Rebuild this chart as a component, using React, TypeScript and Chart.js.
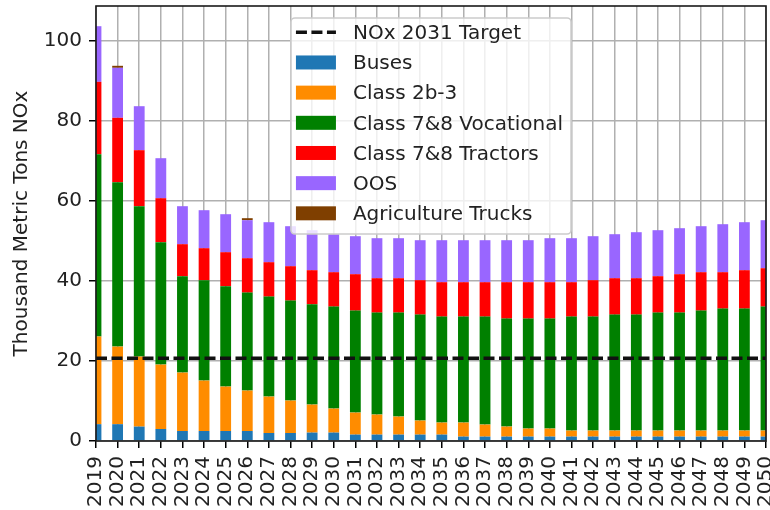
import React, { useEffect, useRef } from "react";
import { Chart, registerables } from "chart.js";

Chart.register(...registerables);

const years = [
  "2019", "2020", "2021", "2022", "2023", "2024", "2025", "2026",
  "2027", "2028", "2029", "2030", "2031", "2032", "2033", "2034",
  "2035", "2036", "2037", "2038", "2039", "2040", "2041", "2042",
  "2043", "2044", "2045", "2046", "2047", "2048", "2049", "2050",
];

const buses = [
  4.2, 4.2, 3.6, 3.0, 2.5, 2.5, 2.5, 2.5, 2.0, 2.0, 2.1, 2.1, 1.6, 1.6, 1.6, 1.6,
  1.6, 1.1, 1.1, 1.1, 1.1, 1.1, 1.1, 1.1, 1.1, 1.1, 1.1, 1.1, 1.1, 1.1, 1.1, 1.1,
];

const class2b3 = [
  21.9, 19.4, 17.5, 16.1, 14.6, 12.6, 11.1, 10.1, 9.1, 8.1, 7.0, 6.0, 5.5, 5.0, 4.5, 3.5,
  3.0, 3.5, 3.0, 2.5, 2.0, 2.0, 1.5, 1.5, 1.5, 1.5, 1.5, 1.5, 1.5, 1.5, 1.5, 1.5,
];

const vocational = [
  45.6, 41.1, 37.6, 30.6, 24.1, 25.1, 25.1, 24.5, 25.0, 25.0, 25.1, 25.5, 25.5, 25.5, 26.0, 26.5,
  26.5, 26.5, 27.0, 27.0, 27.5, 27.5, 28.5, 28.5, 29.0, 29.0, 29.5, 29.5, 30.0, 30.5, 30.5, 31.0,
];

const tractors = [
  18.1, 16.1, 14.0, 11.0, 8.0, 8.0, 8.5, 8.6, 8.6, 8.6, 8.5, 8.6, 9.1, 8.6, 8.6, 8.6,
  8.6, 8.6, 8.6, 9.1, 9.1, 9.1, 8.6, 9.1, 9.1, 9.1, 9.1, 9.6, 9.6, 9.1, 9.6, 9.6,
];

const oos = [
  13.9, 12.5, 11.0, 10.0, 9.5, 9.5, 9.5, 9.5, 10.0, 10.0, 10.0, 9.5, 9.5, 10.0, 10.0, 10.0,
  10.5, 10.5, 10.5, 10.5, 10.5, 11.0, 11.0, 11.0, 11.0, 11.5, 11.5, 11.5, 11.5, 12.0, 12.0, 12.0,
];

const agriculture = [
  0, 0.5, 0, 0, 0, 0, 0, 0.5, 0, 0, 0, 0, 0, 0, 0, 0,
  0, 0, 0, 0, 0, 0, 0, 0, 0, 0, 0, 0, 0, 0, 0, 0,
];

const target2031 = 20.7;
const yTicks = [0, 20, 40, 60, 80, 100];
const yMax = 108.75;

const FONT = "'DejaVu Sans', sans-serif";
const TEXT = "#222222";

const seriesNames = [
  "Buses",
  "Class 2b-3",
  "Class 7&8 Vocational",
  "Class 7&8 Tractors",
  "OOS",
  "Agriculture Trucks",
];
const seriesColors = ["#1f77b4", "#ff8c00", "#008000", "#ff0000", "#9966ff", "#7f3f00"];
const seriesData = [buses, class2b3, vocational, tractors, oos, agriculture];
const targetLabel = "NOx 2031 Target";
const targetDash = [11, 4.5];
const targetWidth = 3.5;

const overlayPlugin = {
  id: "frameAndLegend",
  afterDraw(chart: any) {
    const { ctx, chartArea: a } = chart;
    ctx.save();
    // axes frame
    ctx.strokeStyle = "#1a1a1a";
    ctx.lineWidth = 1.6;
    ctx.strokeRect(a.left, a.top, a.right - a.left, a.bottom - a.top);

    // legend
    ctx.font = `20px ${FONT}`;
    const labels = [targetLabel, ...seriesNames];
    let maxW = 0;
    labels.forEach((l) => (maxW = Math.max(maxW, ctx.measureText(l).width)));
    const padL = 5;
    const handleW = 40;
    const gap = 17;
    const w = padL + handleW + gap + maxW + 8;
    const rowH = 30.17;
    const h = 216;
    const bx = (a.left + a.right) / 2 - w / 2;
    const by = a.top + 12;
    ctx.beginPath();
    ctx.roundRect(bx, by, w, h, 4);
    ctx.fillStyle = "rgba(255,255,255,0.8)";
    ctx.fill();
    ctx.strokeStyle = "#cccccc";
    ctx.lineWidth = 1.6;
    ctx.stroke();

    const hx = bx + padL;
    const tx = hx + handleW + gap;
    labels.forEach((l, i) => {
      const cy = by + 14.3 + rowH * i;
      if (i === 0) {
        ctx.beginPath();
        ctx.setLineDash(targetDash);
        ctx.strokeStyle = "#111111";
        ctx.lineWidth = targetWidth;
        ctx.moveTo(hx, cy);
        ctx.lineTo(hx + handleW, cy);
        ctx.stroke();
        ctx.setLineDash([]);
      } else {
        ctx.fillStyle = seriesColors[i - 1];
        ctx.fillRect(hx, cy - 7, handleW, 14);
      }
      ctx.fillStyle = TEXT;
      ctx.textBaseline = "alphabetic";
      ctx.textAlign = "left";
      ctx.fillText(l, tx, cy + 6.8);
    });
    ctx.restore();
  },
};

export default function App() {
  const ref = useRef<HTMLCanvasElement | null>(null);

  useEffect(() => {
    if (!ref.current) return;
    const gridCommon = {
      display: true,
      color: "#b0b0b0",
      lineWidth: 1.5,
      offset: false,
      drawTicks: true,
      tickLength: 7,
      tickColor: "#000000",
      tickWidth: 1.5,
    };
    const datasets: any[] = [
      {
        type: "line",
        label: targetLabel,
        data: years.map(() => target2031),
        borderColor: "#111111",
        borderWidth: targetWidth,
        borderDash: targetDash,
        pointRadius: 0,
        fill: false,
        stack: "target",
      },
      ...seriesNames.map((name, i) => ({
        type: "bar",
        label: name,
        data: seriesData[i],
        backgroundColor: seriesColors[i],
        borderWidth: 0,
        stack: "nox",
        categoryPercentage: 1,
        barPercentage: 0.5,
      })),
    ];

    const chart = new Chart(ref.current, {
      type: "bar",
      data: { labels: years, datasets },
      options: {
        animation: false,
        responsive: false,
        maintainAspectRatio: false,
        layout: { padding: { top: 6, right: 4, left: 0, bottom: 0 } },
        plugins: { legend: { display: false }, tooltip: { enabled: false } },
        scales: {
          x: {
            type: "category",
            stacked: true,
            offset: false,
            grid: gridCommon,
            border: { display: false },
            ticks: {
              autoSkip: false,
              maxRotation: 90,
              minRotation: 90,
              padding: 8,
              color: TEXT,
              font: { family: FONT, size: 20 },
            },
            afterFit: (s: any) => {
              s.height = 69;
              s.paddingLeft = 0;
              s.paddingRight = 0;
            },
          },
          y: {
            stacked: true,
            min: 0,
            max: yMax,
            grid: gridCommon,
            border: { display: false },
            afterBuildTicks: (s: any) => {
              s.ticks = yTicks.map((v) => ({ value: v }));
            },
            ticks: {
              padding: 7,
              color: TEXT,
              font: { family: FONT, size: 20 },
            },
            title: {
              display: true,
              text: "Thousand Metric Tons NOx",
              color: TEXT,
              font: { family: FONT, size: 20 },
              padding: { top: 10, bottom: 0 },
            },
            afterFit: (s: any) => {
              s.width = 96;
              s.paddingTop = 0;
              s.paddingBottom = 0;
            },
          },
        },
      } as any,
      plugins: [overlayPlugin],
    });
    return () => chart.destroy();
  }, []);

  return (
    <div style={{ position: "absolute", left: 0, top: 0, width: 770, height: 510 }}>
      <canvas ref={ref} width={770} height={510} style={{ display: "block" }} />
    </div>
  );
}
